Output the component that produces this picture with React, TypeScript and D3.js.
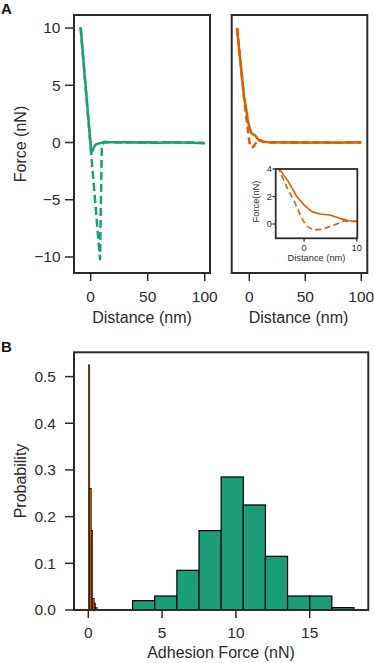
import * as d3 from 'd3';

// panel A, left: green curves (nm, nN)
const greenApproachX = [-8.8, 0.5, 1.5, 2.5, 3.5, 5, 7, 9, 12, 15, 20, 25, 30, 40, 50, 60, 70, 80, 90, 100];
const greenApproachY = [10.05, -0.85, -0.75, -0.5, -0.3, -0.15, -0.08, -0.05, 0.06, 0.04, 0.03, 0.02, 0.04, 0.0, 0.03, -0.02, 0.02, 0.0, -0.03, -0.06];
const greenRetractX = [-8.8, 0.5, 8.2, 9.8, 12, 20, 30, 40, 50, 60, 70, 80, 90, 100];
const greenRetractY = [10.05, -1.0, -10.2, -0.2, 0.0, 0.02, 0.0, 0.03, -0.02, 0.01, 0.03, -0.02, 0.0, -0.04];

// panel A, right: orange curves
const orangeApproachX = [-11, -4.7, -3, -1.4, 0, 1.5, 3, 4.9, 6.8, 8.4, 10, 12, 15, 20, 30, 40, 50, 60, 70, 80, 90, 100];
const orangeApproachY = [10, 4, 3.08, 2.0, 1.38, 0.9, 0.73, 0.65, 0.41, 0.24, 0.2, 0.1, 0.05, 0.03, 0.0, 0.02, -0.02, 0.01, 0.0, -0.02, 0.02, 0.0];
const orangeRetractX = [-10.8, -4.6, -3.3, -1.7, -0.44, 0.5, 1.8, 3.35, 4.9, 6.5, 7.5, 8.4, 10, 12, 20, 30, 40, 50, 60, 70, 80, 90, 100];
const orangeRetractY = [10, 3.8, 2.7, 1.5, 0.41, -0.15, -0.44, -0.39, -0.19, 0.05, 0.24, 0.17, 0.2, 0.05, 0.0, 0.02, -0.01, 0.02, 0.0, 0.01, -0.02, 0.01, 0.0];

// panel B: histograms
const greenBinStart = [3, 4.5, 6, 7.5, 9, 10.5, 12, 13.5, 15, 16.5];
const greenProb = [0.02, 0.03, 0.085, 0.17, 0.285, 0.225, 0.115, 0.03, 0.03, 0.005];
const greenBinWidth = 1.5;
const orangeBinStart = [0, 0.1, 0.2, 0.3, 0.4, 0.5];
const orangeProb = [0.525, 0.26, 0.17, 0.025, 0.015, 0.005];
const orangeBinWidth = 0.1;

const forceTicks = [10, 5, 0, -5, -10];
const distTicks = [0, 50, 100];
const insetYTicks = [0, 2, 4];
const insetXTicks = [0, 10];
const probTicks = [0, 0.1, 0.2, 0.3, 0.4, 0.5];
const adhTicks = [0, 5, 10, 15];

const GREEN = '#1b9e77';
const ORANGE = '#d95f02';
const INK = '#2b2b2b';
const FONT = 'Liberation Sans, Arial, Helvetica, sans-serif';
const TICK_FS = 15.5;
const LABEL_FS = 16;
const INSET_FS = 9.3;

function pts(xs: number[], ys: number[]): [number, number][] {
  return xs.map((x, i) => [x, ys[i]]);
}

export default function App() {
  const yA = d3.scaleLinear().domain([-11.4, 11.14]).range([273, 15]);
  const xL = d3.scaleLinear().domain([-14.6, 104.6]).range([74, 210]);
  const xR = d3.scaleLinear().domain([-15.7, 105.4]).range([231.7, 367.3]);
  const xI = d3.scaleLinear().domain([-5.4, 10.1]).range([275.7, 357.3]);
  const yI = d3.scaleLinear().domain([-1.04, 4]).range([238.3, 169]);
  const xB = d3.scaleLinear().domain([-0.97, 18.97]).range([74, 368.3]);
  const yB = d3.scaleLinear().domain([0, 0.552]).range([610, 352.3]);

  const lineL = d3.line<[number, number]>().x(d => xL(d[0])).y(d => yA(d[1]));
  const lineR = d3.line<[number, number]>().x(d => xR(d[0])).y(d => yA(d[1]));
  const lineI = d3.line<[number, number]>().x(d => xI(d[0])).y(d => yI(d[1]));
  const fmt = d3.format('');
  const fmt1 = d3.format('.1f');

  const frame = (x0: number, x1: number, y0: number, y1: number, w = 2) => (
    <rect x={x0} y={y0} width={x1 - x0} height={y1 - y0} fill="none" stroke={INK} strokeWidth={w} />
  );

  return (
    <div style={{ position: 'absolute', left: 0, top: 0 }}>
      <svg width={374} height={663} style={{ display: 'block', background: '#fff' }} fontFamily={FONT}>
        <defs>
          <clipPath id="clipI"><rect x={275.7} y={169} width={81.6} height={69.3} /></clipPath>
        </defs>

        {/* panel labels */}
        <text x={1} y={13.5} fontSize={15} fontWeight="bold" fill="#111">A</text>
        <text x={1} y={351.5} fontSize={15} fontWeight="bold" fill="#111">B</text>

        {/* A left */}
        <path d={lineL(pts(greenApproachX, greenApproachY)) || ''} fill="none" stroke={GREEN} strokeWidth={2.5} strokeLinejoin="round" />
        <path d={lineL(pts(greenRetractX, greenRetractY)) || ''} fill="none" stroke={GREEN} strokeWidth={2.5} strokeDasharray="8,4" strokeLinejoin="round" />
        {frame(74, 210, 15, 273)}
        {forceTicks.map(t => (
          <g key={t}>
            <line x1={65} x2={74} y1={yA(t)} y2={yA(t)} stroke={INK} strokeWidth={1.5} />
            <text x={60.5} y={yA(t)} dy="0.35em" textAnchor="end" fontSize={TICK_FS} fill={INK}>{fmt(t).replace('-', '\u2212')}</text>
          </g>
        ))}
        {distTicks.map(t => (
          <g key={t}>
            <line x1={xL(t)} x2={xL(t)} y1={273} y2={281} stroke={INK} strokeWidth={1.5} />
            <text x={xL(t)} y={301.5} textAnchor="middle" fontSize={TICK_FS} fill={INK}>{fmt(t)}</text>
          </g>
        ))}
        <text x={142} y={323} textAnchor="middle" fontSize={LABEL_FS} fill={INK}>Distance (nm)</text>
        <text transform="translate(25.5,144) rotate(-90)" textAnchor="middle" fontSize={LABEL_FS} fill={INK}>Force (nN)</text>

        {/* A right */}
        <path d={lineR(pts(orangeApproachX, orangeApproachY)) || ''} fill="none" stroke={ORANGE} strokeWidth={2.5} strokeLinejoin="round" />
        <path d={lineR(pts(orangeRetractX, orangeRetractY)) || ''} fill="none" stroke={ORANGE} strokeWidth={2.5} strokeDasharray="7,4" strokeLinejoin="round" />
        {frame(231.7, 367.3, 15, 273)}
        {distTicks.map(t => (
          <g key={t}>
            <line x1={xR(t)} x2={xR(t)} y1={273} y2={281} stroke={INK} strokeWidth={1.5} />
            <text x={xR(t)} y={301.5} textAnchor="middle" fontSize={TICK_FS} fill={INK}>{fmt(t)}</text>
          </g>
        ))}
        <text x={298.5} y={323} textAnchor="middle" fontSize={LABEL_FS} fill={INK}>Distance (nm)</text>

        {/* inset */}
        <rect x={275.7} y={169} width={81.6} height={69.3} fill="#fff" />
        <g clipPath="url(#clipI)">
          <path d={lineI(pts(orangeApproachX, orangeApproachY)) || ''} fill="none" stroke={ORANGE} strokeWidth={1.6} strokeLinejoin="round" />
          <path d={lineI(pts(orangeRetractX, orangeRetractY)) || ''} fill="none" stroke={ORANGE} strokeWidth={1.6} strokeDasharray="6,3.5" strokeLinejoin="round" />
        </g>
        {frame(275.7, 357.3, 169, 238.3, 1.8)}
        {insetYTicks.map(t => (
          <g key={t}>
            <line x1={272.5} x2={275.7} y1={yI(t)} y2={yI(t)} stroke={INK} strokeWidth={1.2} />
            <text x={272} y={yI(t)} dy="0.35em" textAnchor="end" fontSize={INSET_FS} fill={INK}>{fmt(t)}</text>
          </g>
        ))}
        {insetXTicks.map(t => (
          <g key={t}>
            <line x1={xI(t)} x2={xI(t)} y1={238.3} y2={241.5} stroke={INK} strokeWidth={1.2} />
            <text x={xI(t)} y={250.5} textAnchor="middle" fontSize={INSET_FS} fill={INK}>{fmt(t)}</text>
          </g>
        ))}
        <text x={316.5} y={261} textAnchor="middle" fontSize={INSET_FS} fill={INK}>Distance (nm)</text>
        <text transform="translate(259,201.5) rotate(-90)" textAnchor="middle" fontSize={INSET_FS} fill={INK}>Force(nN)</text>

        {/* B */}
        {orangeBinStart.map((s, i) => (
          <rect key={'o' + i} x={xB(s)} y={yB(orangeProb[i])} width={xB(s + orangeBinWidth) - xB(s)} height={yB(0) - yB(orangeProb[i])}
            fill={ORANGE} stroke="#000" strokeWidth={0.6} />
        ))}
        {greenBinStart.map((s, i) => (
          <rect key={'g' + i} x={xB(s)} y={yB(greenProb[i])} width={xB(s + greenBinWidth) - xB(s)} height={yB(0) - yB(greenProb[i])}
            fill={GREEN} stroke="#000" strokeWidth={1.2} />
        ))}
        {frame(74, 368.3, 352.3, 610)}
        {probTicks.map(t => (
          <g key={t}>
            <line x1={65} x2={74} y1={yB(t)} y2={yB(t)} stroke={INK} strokeWidth={1.5} />
            <text x={56} y={yB(t)} dy="0.35em" textAnchor="end" fontSize={TICK_FS} fill={INK}>{fmt1(t)}</text>
          </g>
        ))}
        {adhTicks.map(t => (
          <g key={t}>
            <line x1={xB(t)} x2={xB(t)} y1={610} y2={618} stroke={INK} strokeWidth={1.5} />
            <text x={xB(t)} y={637.5} textAnchor="middle" fontSize={TICK_FS} fill={INK}>{fmt(t)}</text>
          </g>
        ))}
        <text x={221} y={658} textAnchor="middle" fontSize={LABEL_FS} fill={INK}>Adhesion Force (nN)</text>
        <text transform="translate(26,481) rotate(-90)" textAnchor="middle" fontSize={LABEL_FS} fill={INK}>Probability</text>
      </svg>
    </div>
  );
}
